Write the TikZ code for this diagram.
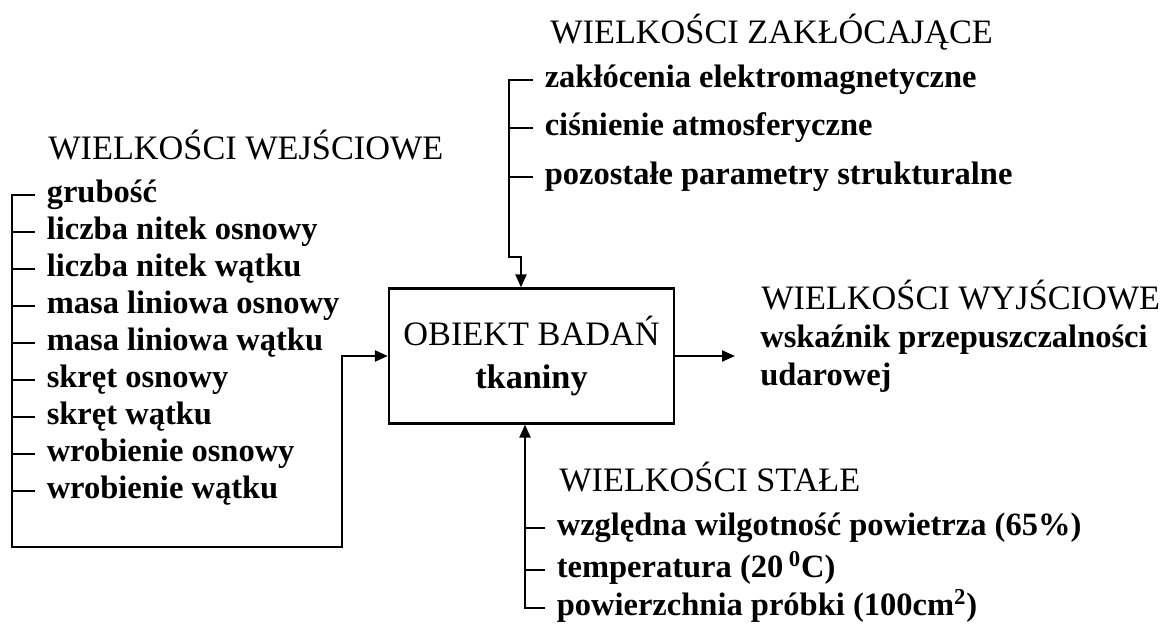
\documentclass[tikz,border=0pt]{standalone}
\usepackage{fontspec}
\setmainfont{Liberation Serif}
\usetikzlibrary{arrows.meta,calc,positioning}
\tikzset{
  obj/.style={rectangle,draw=black,line width=1.3pt,minimum width=5.7cm,minimum height=2.7cm,
    align=center,inner sep=0pt,font=\fontsize{19.5}{24.4}\selectfont},
  hd/.style={anchor=west,inner sep=0pt,font=\fontsize{19.5}{22}\selectfont,text height=16.5pt,text depth=3.6pt},
  itm/.style={anchor=west,inner xsep=6.5pt,inner ysep=0pt,font=\fontsize{18.5}{22}\selectfont\bfseries,
    text height=12.2pt,text depth=3.7pt},
  lnk/.style={draw=black,line width=1.3pt},
  msg/.style={-{Triangle[length=2.6mm,width=2.2mm]},line width=1.3pt,draw=black},
}
\begin{document}
\begin{tikzpicture}
\useasboundingbox (0,0) rectangle (23.26,12.62);
% ---- object
\node[obj] (obj) at (10.63,5.50) {OBIEKT BADAŃ\\{\bfseries tkaniny}};
% ---- inputs
\node[hd] (l0) at (0.96,9.66) {WIELKOŚCI WEJŚCIOWE};
\node[itm] (l1) at (0.70,8.72) {grubość};
\node[itm] (l2) at (0.70,7.98) {liczba nitek osnowy};
\node[itm] (l3) at (0.70,7.24) {liczba nitek wątku};
\node[itm] (l4) at (0.70,6.50) {masa liniowa osnowy};
\node[itm] (l5) at (0.70,5.76) {masa liniowa wątku};
\node[itm] (l6) at (0.70,5.02) {skręt osnowy};
\node[itm] (l7) at (0.70,4.28) {skręt wątku};
\node[itm] (l8) at (0.70,3.54) {wrobienie osnowy};
\node[itm] (l9) at (0.70,2.80) {wrobienie wątku};
\coordinate (lb) at (0.24,1.68); \coordinate (lj) at (6.84,5.50);
\draw[msg] (l1.west) -| (lb) -| (lj) -- (obj.west);
\foreach \i in {2,...,9} \draw[lnk] (l\i.west -| lb) -- (l\i.west);
% ---- disturbances
\node[hd] (z0) at (11.00,11.98) {WIELKOŚCI ZAKŁÓCAJĄCE};
\node[itm] (z1) at (10.66,11.02) {zakłócenia elektromagnetyczne};
\node[itm] (z2) at (10.66,10.06) {ciśnienie atmosferyczne};
\node[itm] (z3) at (10.66,9.08) {pozostałe parametry strukturalne};
\coordinate (zk) at (10.18,7.48); \coordinate (zj) at (10.42,7.48);
\draw[msg] (z1.west) -| (zk) -- (zj) -- (zj |- obj.north);
\foreach \i in {2,3} \draw[lnk] (z\i.west -| zk) -- (z\i.west);
% ---- output
\node[hd] (w0) at (15.22,6.66) {WIELKOŚCI WYJŚCIOWE};
\node[itm] (w1) at (14.97,5.82) {wskaźnik przepuszczalności};
\node[itm] (w2) at (14.97,5.06) {udarowej};
\coordinate (wo) at (14.70,5.50);
\draw[msg] (obj.east) -- (wo);
% ---- constants
\node[hd] (s0) at (11.18,3.02) {WIELKOŚCI STAŁE};
\node[itm] (s1) at (10.90,2.06) {względna wilgotność powietrza (65\%)};
\node[itm] (s2) at (10.90,1.22) {temperatura (20\,\textsuperscript{0}C)};
\node[itm] (s3) at (10.90,0.46) {powierzchnia próbki (100cm\textsuperscript{2})};
\coordinate (sb) at (10.50,0.46);
\draw[msg] (s3.west) -| (sb |- obj.south);
\foreach \i in {1,2} \draw[lnk] (s\i.west -| sb) -- (s\i.west);
\end{tikzpicture}
\end{document}
